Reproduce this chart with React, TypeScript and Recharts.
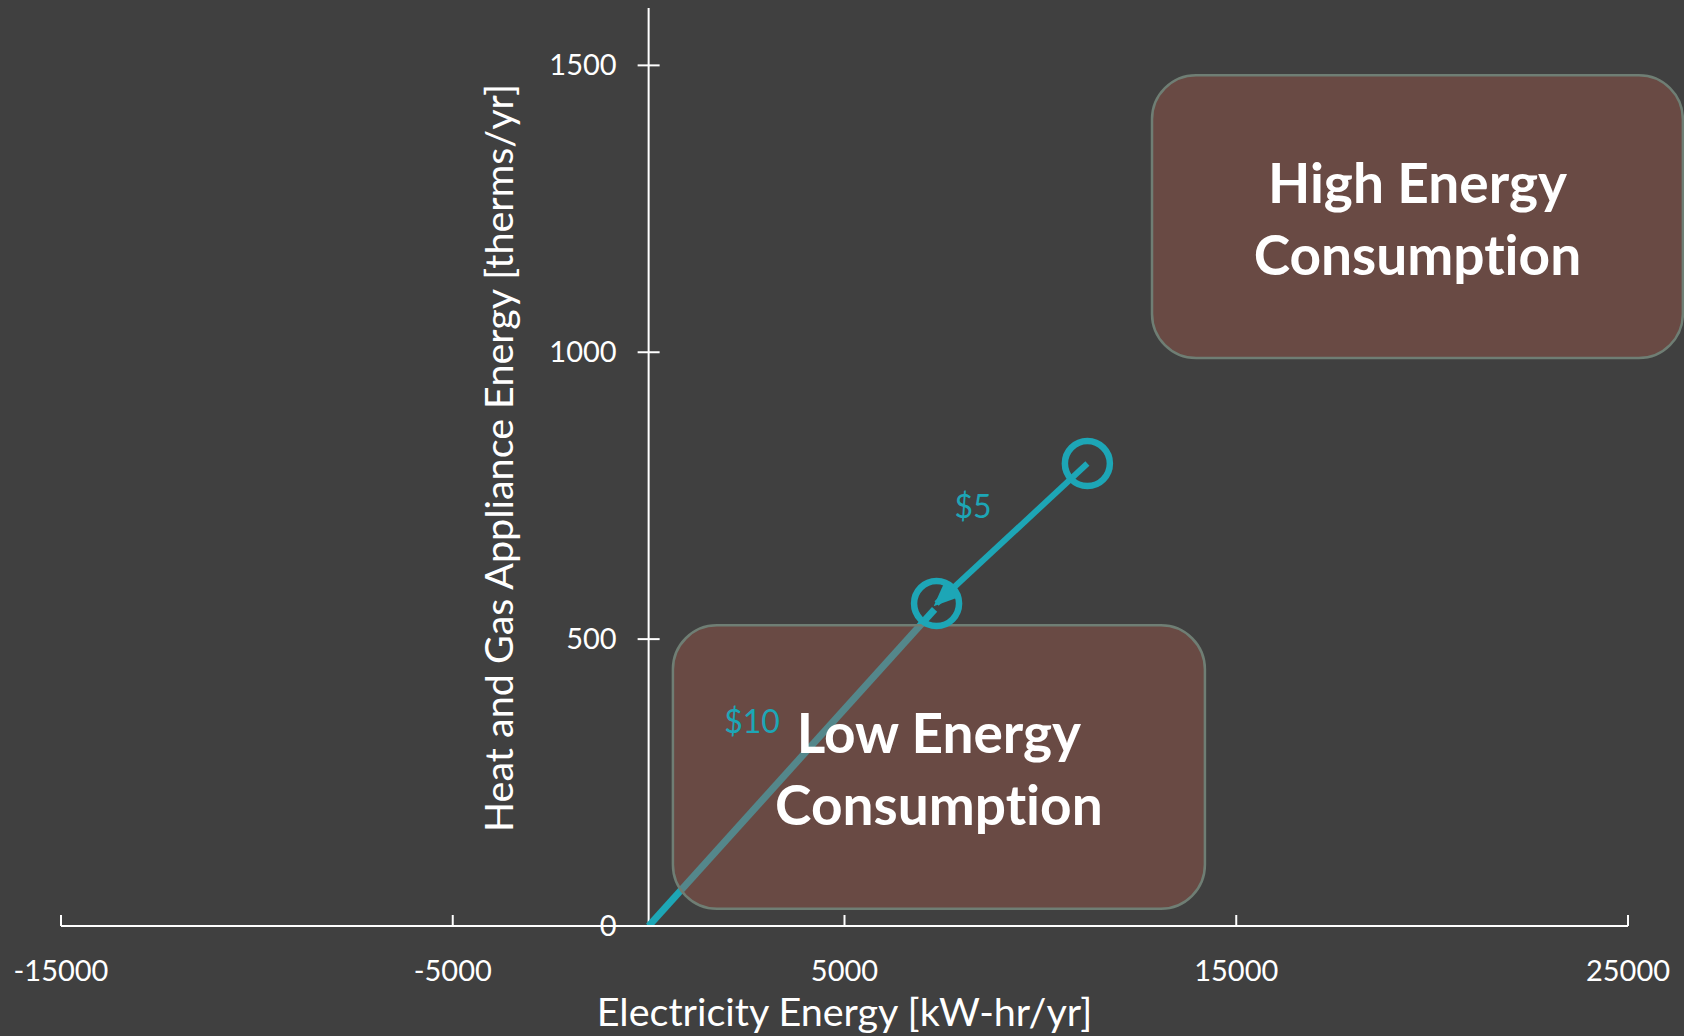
import React from 'react';
import { ComposedChart, Line, XAxis, YAxis, ReferenceArea, ReferenceLine, ReferenceDot } from 'recharts';

const xTicks = [-15000, -5000, 5000, 15000, 25000];
const yTicks = [0, 500, 1000, 1500];

// $5 step: current home -> improved home
const step5 = [
  { x: 11200, y: 806 },
  { x: 7350, y: 562 },
];
// $10 step: zero -> improved home
const step10 = [
  { x: 0, y: 0 },
  { x: 7300, y: 552 },
];

const stepLabels = [
  { x: 8280, y: 730, text: '$5' },
  { x: 2640, y: 355, text: '$10' },
];

const zones = [
  { x1: 12850, x2: 26400, y1: 990, y2: 1483, lines: ['High Energy', 'Consumption'] },
  { x1: 620, x2: 14200, y1: 30, y2: 524, lines: ['Low Energy', 'Consumption'] },
];

const BG = '#404040';
const TEAL = '#1DA6B6';
const AXIS = '#FFFFFF';
const TEXT = '#FFFFFF';

const XTick = (props: any) => {
  const { x, y, payload } = props;
  return (
    <g>
      <line x1={x} x2={x} y1={y} y2={y - 11} stroke={AXIS} strokeWidth={2} />
      <text x={x} y={y + 55} textAnchor="middle" fill={TEXT} fontSize={29}>
        {payload.value}
      </text>
    </g>
  );
};

const YTick = ({ cx, cy, value }: any) => (
  <g>
    {value !== 0 && <line x1={cx - 11} x2={cx + 11} y1={cy} y2={cy} stroke={AXIS} strokeWidth={2} />}
    <text x={cx - 32} y={cy + 10} textAnchor="end" fill={TEXT} fontSize={29}>
      {value}
    </text>
  </g>
);

const ZoneLabel = (lines: string[]) => (p: any) => {
  const vb = p.viewBox;
  const cx = vb.x + vb.width / 2;
  const cy = vb.y + vb.height / 2;
  return (
    <text textAnchor="middle" fill={TEXT} fontSize={55} fontWeight="bold" style={{ fontVariantLigatures: 'none' }}>
      <tspan x={cx} y={cy - 14}>{lines[0]}</tspan>
      <tspan x={cx} y={cy + 58}>{lines[1]}</tspan>
    </text>
  );
};

const YTitle = (p: any) => {
  const vb = p.viewBox;
  const cx = vb.x - 151;
  const cy = vb.y + vb.height / 2 - 9;
  return (
    <text
      x={cx}
      y={cy}
      transform={`rotate(-90 ${cx} ${cy})`}
      textAnchor="middle"
      dominantBaseline="central"
      fill={TEXT}
      fontSize={39.5}
    >
      Heat and Gas Appliance Energy [therms/yr]
    </text>
  );
};

export default function App() {
  return (
    <div
      style={{
        position: 'absolute',
        left: 0,
        top: 0,
        width: 1684,
        height: 1036,
        background: BG,
        fontFamily: 'Lato, sans-serif',
      }}
    >
      <ComposedChart width={1684} height={1036} margin={{ top: 8, right: 56, bottom: 0, left: 61 }}>
        <defs>
          <marker
            id="arrowTeal"
            markerUnits="userSpaceOnUse"
            viewBox="0 0 26 22"
            markerWidth={26}
            markerHeight={22}
            refX={22}
            refY={11}
            orient="auto"
          >
            <path d="M0,0 L26,11 L0,22 z" fill={TEAL} />
          </marker>
        </defs>
        <XAxis
          type="number"
          dataKey="x"
          domain={[-15000, 25000]}
          ticks={xTicks}
          interval={0}
          allowDataOverflow
          height={110}
          tickSize={0}
          tickMargin={0}
          tickLine={false}
          axisLine={{ stroke: AXIS, strokeWidth: 2 }}
          tick={XTick}
          label={{
            value: 'Electricity Energy [kW-hr/yr]',
            position: 'insideBottom',
            offset: 10,
            fill: TEXT,
            fontSize: 39.5,
          }}
        />
        <YAxis type="number" dataKey="y" domain={[0, 1600]} allowDataOverflow hide />
        <ReferenceLine x={0} stroke={AXIS} strokeWidth={2} label={YTitle} />
        {yTicks.map((v) => (
          <ReferenceDot
            key={v}
            x={0}
            y={v}
            r={0}
            ifOverflow="visible"
            shape={(p: any) => <YTick {...p} value={v} />}
          />
        ))}
        <Line
          data={step10}
          dataKey="y"
          type="linear"
          stroke={TEAL}
          strokeWidth={7}
          dot={false}
          activeDot={false}
          isAnimationActive={false}
        />
        <Line
          data={step5}
          dataKey="y"
          type="linear"
          stroke={TEAL}
          strokeWidth={6}
          dot={{ r: 22.5, fill: 'none', stroke: TEAL, strokeWidth: 6.5 }}
          activeDot={false}
          markerEnd="url(#arrowTeal)"
          isAnimationActive={false}
        />
        {zones.map((z, i) => (
          <ReferenceArea
            key={i}
            x1={z.x1}
            x2={z.x2}
            y1={z.y1}
            y2={z.y2}
            ifOverflow="visible"
            zIndex={450}
            shape={(p: any) => (
              <rect
                x={p.x}
                y={p.y}
                width={p.width}
                height={p.height}
                rx={44}
                ry={44}
                fill="#A8594A"
                fillOpacity={0.4}
                stroke="#6F7E74"
                strokeWidth={2.5}
              />
            )}
            label={ZoneLabel(z.lines)}
          />
        ))}
        {stepLabels.map((s) => (
          <ReferenceDot
            key={s.text}
            x={s.x}
            y={s.y}
            r={0}
            ifOverflow="visible"
            shape={(p: any) => (
              <text x={p.cx} y={p.cy + 11} textAnchor="middle" fill={TEAL} fontSize={32}>
                {s.text}
              </text>
            )}
          />
        ))}
      </ComposedChart>
    </div>
  );
}
